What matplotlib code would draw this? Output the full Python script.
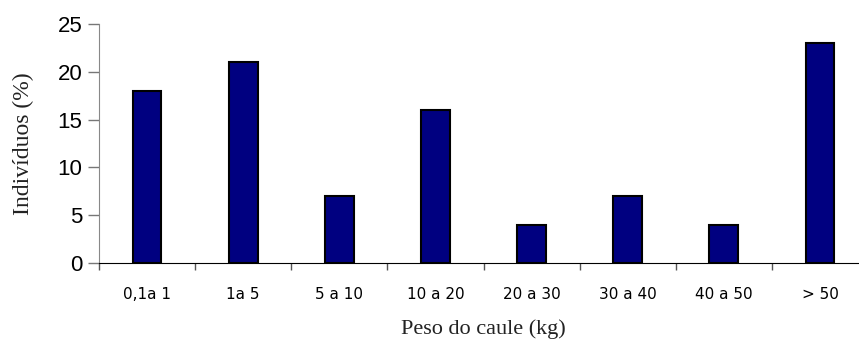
import numpy as np
import matplotlib
matplotlib.use("Agg")
import matplotlib.pyplot as plt

# classes de peso do caule e percentagem de individuos
classes = ["0,1a 1", "1a 5", "5 a 10", "10 a 20", "20 a 30", "30 a 40", "40 a 50", "> 50"]
individuos = [18, 21, 7, 16, 4, 7, 4, 23]
yticks = [0, 5, 10, 15, 20, 25]

W, H = 859, 347
fig = plt.figure(figsize=(W / 100, H / 100), dpi=100)
ax = fig.add_axes([99 / W, (H - 263) / H, (868 - 99) / W, (263 - 24) / H])

x = np.arange(len(classes))
ax.bar(x, individuos, width=0.3, color="#000080", edgecolor="black", linewidth=1.5, zorder=3)

ax.set_xlim(-0.5, len(classes) - 0.5)
ax.set_ylim(0, 25)
ax.set_yticks(yticks)
ax.set_yticklabels([str(v) for v in yticks], fontsize=16, family="Liberation Sans")

# marcas do eixo x entre as classes, rotulos no centro
ax.set_xticks(np.arange(len(classes) + 1) - 0.5)
ax.set_xticklabels([])
ax.set_xticks(x, minor=True)
ax.set_xticklabels(classes, minor=True, fontsize=11, family="DejaVu Sans")
ax.tick_params(axis="x", which="minor", length=0, pad=17)
ax.tick_params(axis="x", which="major", length=5, width=1, color="#555555")
ax.tick_params(axis="y", length=8, width=1, color="#777777", pad=4)

for s in ["top", "right"]:
    ax.spines[s].set_visible(False)
ax.spines["left"].set_color("#888888")
ax.spines["bottom"].set_color("black")

ax.set_ylabel("Indivíduos (%)", fontsize=17, family="Liberation Serif", color="#222222")
ax.yaxis.set_label_coords(-0.085, 0.5)
ax.set_xlabel("Peso do caule (kg)", fontsize=16, family="Liberation Serif", color="#222222", labelpad=13)

fig.savefig("out.png", dpi=100)
